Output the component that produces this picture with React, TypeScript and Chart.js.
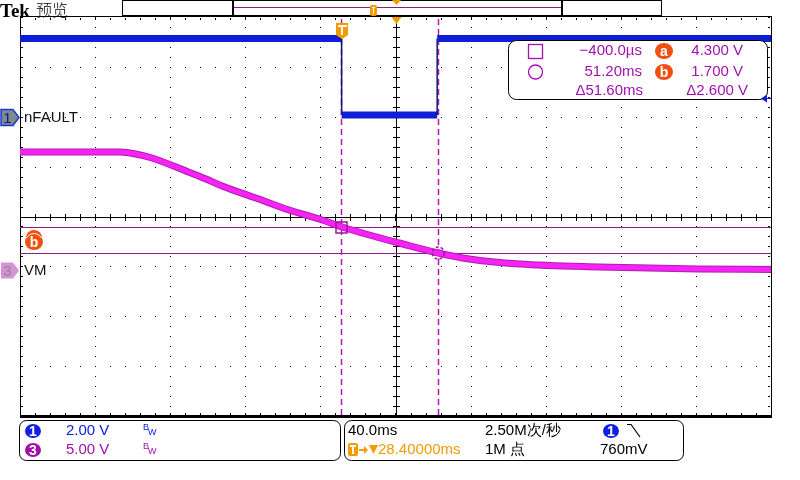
import React, { useEffect, useRef } from "react";
import { Chart, registerables } from "chart.js";
Chart.register(...registerables);

// ---- data (time in ms relative to trigger, volts) ----
const ch1Times = [-171.6, -0.3, -0.3, 50.6, 50.6, 228.4];
const ch1Volts = [3.14, 3.14, 0.08, 0.08, 3.14, 3.14];

const ch3Times = [-171.6, -118, -110, -101.3, -83.2, -72.5, -64, -46, -28.3, -10.7, 0, 14.4, 30.4, 51.2, 67.7, 94.4, 137, 190, 228.4];
const ch3Volts = [11.8, 11.8, 11.6, 11.2, 9.9, 9.1, 8.4, 7.2, 6.0, 5.0, 4.3, 3.5, 2.7, 1.7, 1.1, 0.6, 0.3, 0.1, 0.05];

const cursorTimes = [-0.4, 51.2];
const cursorVolts = [4.3, 1.7];
const triggerLevel = 0.76;
const horizPosition = 28.4;

const xRange = [-171.6, 228.4];
const ch1Range = [-11.96, 4.0];
const ch3Range = [-14.6, 25.3];

const readoutTimes = ["\u2212400.0\u00b5s", "51.20ms", "\u039451.60ms"];
const readoutVolts = ["4.300 V", "1.700 V", "\u03942.600 V"];
const channelLabels = ["nFAULT", "VM"];
const channelScales = ["2.00 V", "5.00 V"];

const UI = '"Liberation Sans", Arial, sans-serif';
const BLUE = "#0c1ed6";
const MAG = "#f524f5";
const PURP = "#a012b0";
const ORANGE = "#f59a00";
const RED_OR = "#f0500f";

function line(ctx: CanvasRenderingContext2D, x1: number, y1: number, x2: number, y2: number) {
  ctx.beginPath();
  ctx.moveTo(x1, y1);
  ctx.lineTo(x2, y2);
  ctx.stroke();
}

function roundRect(ctx: CanvasRenderingContext2D, x: number, y: number, w: number, h: number, r: number) {
  ctx.beginPath();
  ctx.moveTo(x + r, y);
  ctx.lineTo(x + w - r, y);
  ctx.arcTo(x + w, y, x + w, y + r, r);
  ctx.lineTo(x + w, y + h - r);
  ctx.arcTo(x + w, y + h, x + w - r, y + h, r);
  ctx.lineTo(x + r, y + h);
  ctx.arcTo(x, y + h, x, y + h - r, r);
  ctx.lineTo(x, y + r);
  ctx.arcTo(x, y, x + r, y, r);
  ctx.closePath();
}

function badge(ctx: CanvasRenderingContext2D, cx: number, cy: number, r: number, fill: string, txt: string, font: string, txtColor = "#fff") {
  ctx.save();
  ctx.fillStyle = fill;
  ctx.beginPath();
  ctx.ellipse(cx, cy, r + 1, r, 0, 0, Math.PI * 2);
  ctx.fill();
  ctx.fillStyle = txtColor;
  ctx.font = font;
  ctx.textAlign = "center";
  ctx.textBaseline = "middle";
  ctx.fillText(txt, cx, cy + 1);
  ctx.restore();
}

const scopePlugin = {
  id: "scope",
  beforeDatasetsDraw(chart: any) {
    const ctx: CanvasRenderingContext2D = chart.ctx;
    const { left, right, top, bottom } = chart.chartArea;
    const dw = (right - left) / 10;
    const dh = (bottom - top) / 8;
    ctx.save();
    ctx.fillStyle = "#000";
    // dotted major lines
    for (let j = 1; j < 8; j++) {
      if (j === 4) continue;
      const y = Math.round(top + j * dh);
      for (let k = 0; k <= 50; k++) ctx.fillRect(Math.round(left + (k * dw) / 5), y, 1, 1);
    }
    for (let i = 1; i < 10; i++) {
      if (i === 5) continue;
      const x = Math.round(left + i * dw);
      for (let k = 0; k <= 40; k++) ctx.fillRect(x, Math.round(top + (k * dh) / 5), 1, 1);
    }
    // edge ticks
    for (let k = 0; k <= 50; k++) {
      const x = Math.round(left + (k * dw) / 5);
      ctx.fillRect(x, top + 1, 1, 2);
      ctx.fillRect(x, bottom - 3, 1, 2);
    }
    for (let k = 0; k <= 40; k++) {
      const y = Math.round(top + (k * dh) / 5);
      ctx.fillRect(left + 1, y, 2, 1);
      ctx.fillRect(right - 3, y, 2, 1);
    }
    // center cross
    const cx = Math.round(left + 5 * dw);
    const cy = Math.round(top + 4 * dh);
    ctx.fillRect(left, cy, right - left, 1);
    ctx.fillRect(cx, top, 1, bottom - top);
    for (let k = 0; k <= 50; k++) ctx.fillRect(Math.round(left + (k * dw) / 5), cy - 3, 1, 7);
    for (let k = 0; k <= 40; k++) ctx.fillRect(cx - 3, Math.round(top + (k * dh) / 5), 7, 1);
    // border
    ctx.strokeStyle = "#000";
    ctx.lineWidth = 1;
    ctx.strokeRect(left + 0.5, top - 0.5, right - left, bottom - top);
    ctx.fillRect(left, bottom - 1, right - left + 1, 3);

    // cursors
    const xs = chart.scales.x;
    const y3 = chart.scales.y3;
    ctx.strokeStyle = "#8b1a8b";
    ctx.lineWidth = 1;
    cursorVolts.forEach((v) => {
      const y = Math.round(y3.getPixelForValue(v)) + 0.5;
      line(ctx, left, y, right, y);
    });
    ctx.setLineDash([6, 4]);
    ctx.strokeStyle = "#b414b4";
    ctx.lineWidth = 1.5;
    cursorTimes.forEach((t) => {
      const x = Math.round(xs.getPixelForValue(t)) + 0.5;
      line(ctx, x, top + 2, x, bottom);
    });
    ctx.restore();
  },
  afterDatasetsDraw(chart: any) {
    const ctx: CanvasRenderingContext2D = chart.ctx;
    const xs = chart.scales.x;
    const y3 = chart.scales.y3;
    const y1 = chart.scales.y1;
    const { left, right, top } = chart.chartArea;
    ctx.save();
    // cursor markers
    ctx.strokeStyle = "#a010a0";
    ctx.lineWidth = 1.5;
    const sx = Math.round(xs.getPixelForValue(cursorTimes[0]));
    const sy = Math.round(y3.getPixelForValue(cursorVolts[0]));
    ctx.strokeRect(sx - 5, sy - 5, 11, 11);
    const ox = xs.getPixelForValue(cursorTimes[1]);
    const oy = y3.getPixelForValue(cursorVolts[1]);
    ctx.setLineDash([3, 2]);
    ctx.beginPath();
    ctx.arc(ox, oy, 6, 0, Math.PI * 2);
    ctx.stroke();
    ctx.setLineDash([]);

    // trigger T marker
    const tx = Math.round(xs.getPixelForValue(0));
    ctx.fillStyle = ORANGE;
    ctx.beginPath();
    ctx.moveTo(tx - 6, top + 6);
    ctx.lineTo(tx + 6, top + 6);
    ctx.lineTo(tx + 6, top + 18);
    ctx.lineTo(tx, top + 22);
    ctx.lineTo(tx - 6, top + 18);
    ctx.closePath();
    ctx.fill();
    ctx.fillStyle = "#fff";
    ctx.fillRect(tx - 4, top + 8, 9, 2);
    ctx.fillRect(tx - 1, top + 8, 2, 10);

    // horizontal position triangle
    const hx = Math.round(xs.getPixelForValue(horizPosition)) + 0.5;
    ctx.fillStyle = ORANGE;
    ctx.beginPath();
    ctx.moveTo(hx - 5, top);
    ctx.lineTo(hx + 5, top);
    ctx.lineTo(hx, top + 7);
    ctx.closePath();
    ctx.fill();

    // readout box
    roundRect(ctx, 508.5, 40.5, 259, 59, 8);
    ctx.fillStyle = "#fff";
    ctx.fill();
    ctx.strokeStyle = "#000";
    ctx.lineWidth = 1;
    ctx.stroke();
    ctx.strokeStyle = PURP;
    ctx.lineWidth = 1.3;
    ctx.strokeRect(528.5, 44.5, 14, 14);
    ctx.beginPath();
    ctx.arc(535.5, 72, 7, 0, Math.PI * 2);
    ctx.stroke();
    ctx.font = "15px " + UI;
    ctx.fillStyle = PURP;
    ctx.textBaseline = "middle";
    ctx.textAlign = "right";
    const rowY = [51, 72, 91];
    ctx.fillText(readoutTimes[0], 642, rowY[0]);
    ctx.fillText(readoutTimes[1], 642, rowY[1]);
    ctx.fillText(readoutTimes[2], 643, rowY[2]);
    ctx.fillText(readoutVolts[0], 743, rowY[0]);
    ctx.fillText(readoutVolts[1], 743, rowY[1]);
    ctx.fillText(readoutVolts[2], 748, rowY[2]);
    badge(ctx, 664, rowY[0], 8, RED_OR, "a", "bold 14px " + UI);
    badge(ctx, 664, rowY[1], 8, RED_OR, "b", "bold 14px " + UI);

    // trigger level arrow (right)
    const ty = Math.round(y1.getPixelForValue(triggerLevel)) + 0.5;
    ctx.fillStyle = BLUE;
    ctx.beginPath();
    ctx.moveTo(right - 10, ty);
    ctx.lineTo(right - 4, ty - 4);
    ctx.lineTo(right - 4, ty + 4);
    ctx.closePath();
    ctx.fill();
    ctx.fillRect(right - 4, ty - 0.5, 4, 1);

    // channel ground markers (left)
    const g1 = Math.round(y1.getPixelForValue(0)) + 0.5;
    const g3 = Math.round(y3.getPixelForValue(0)) + 0.5;
    const marker = (gy: number, fill: string, stroke: string | null, num: string, numColor: string) => {
      ctx.beginPath();
      ctx.moveTo(1, gy - 8);
      ctx.lineTo(13, gy - 8);
      ctx.lineTo(19, gy);
      ctx.lineTo(13, gy + 8);
      ctx.lineTo(1, gy + 8);
      ctx.closePath();
      ctx.fillStyle = fill;
      ctx.fill();
      if (stroke) {
        ctx.strokeStyle = stroke;
        ctx.lineWidth = 1.5;
        ctx.stroke();
      }
      ctx.fillStyle = numColor;
      ctx.font = "15px " + UI;
      ctx.textAlign = "center";
      ctx.textBaseline = "middle";
      ctx.fillText(num, 7.5, gy + 1);
    };
    marker(g1, "#7f8a8c", "#1a3ad8", "1", "#0a1a9a");
    marker(g3, "#d890d8", null, "3", "#8a8a8a");
    ctx.fillStyle = "#111";
    ctx.font = "15px " + UI;
    ctx.textAlign = "left";
    ctx.textBaseline = "middle";
    ctx.fillText(channelLabels[0], left + 4, g1);
    ctx.fillText(channelLabels[1], left + 4, g3);

    // b marker on left
    const by = (y3.getPixelForValue(cursorVolts[0]) + y3.getPixelForValue(cursorVolts[1])) / 2 + 1;
    ctx.fillStyle = RED_OR;
    ctx.beginPath();
    ctx.arc(34, by - 3, 8, Math.PI, Math.PI * 2);
    ctx.fill();
    badge(ctx, 34, by + 1, 8, RED_OR, "b", "bold 14px " + UI);
    ctx.strokeStyle = "#fff";
    ctx.lineWidth = 1;
    ctx.beginPath();
    ctx.arc(34, by + 1, 8.5, Math.PI * 1.15, Math.PI * 1.85);
    ctx.stroke();

    ctx.restore();
  },
  afterDraw(chart: any) {
    const ctx: CanvasRenderingContext2D = chart.ctx;
    ctx.save();
    // title
    ctx.fillStyle = "#000";
    ctx.textAlign = "left";
    ctx.textBaseline = "alphabetic";
    ctx.font = 'bold 19px "Liberation Serif", serif';
    ctx.fillText("Tek", 0, 17);
    ctx.font = '300 16px "Noto Sans CJK SC", sans-serif';
    ctx.fillText("预览", 36, 16);

    // record view bar
    ctx.strokeStyle = "#000";
    ctx.lineWidth = 1;
    ctx.fillStyle = "#fff";
    ctx.fillRect(122, 0, 539, 15);
    ctx.strokeRect(122.5, 0.5, 539, 15);
    ctx.strokeRect(232.5, 0.5, 330, 15);
    ctx.fillStyle = "#000";
    ctx.fillRect(232, 0, 2, 16);
    ctx.fillRect(561, 0, 2, 16);
    ctx.fillStyle = "#8b1a8b";
    ctx.fillRect(234, 7, 327, 1);
    ctx.fillStyle = ORANGE;
    roundRect(ctx, 370, 5, 7, 11, 2);
    ctx.fill();
    ctx.fillStyle = "#fff";
    ctx.fillRect(372, 7, 3, 1);
    ctx.fillRect(373, 7, 1, 7);
    ctx.fillStyle = ORANGE;
    ctx.beginPath();
    ctx.moveTo(392, 0);
    ctx.lineTo(401, 0);
    ctx.lineTo(396.5, 5);
    ctx.closePath();
    ctx.fill();

    // bottom status boxes
    ctx.strokeStyle = "#000";
    ctx.lineWidth = 1;
    roundRect(ctx, 19.5, 420.5, 321, 40, 7);
    ctx.stroke();
    roundRect(ctx, 344.5, 420.5, 339, 40, 7);
    ctx.stroke();

    const r1 = 431, r2 = 450;
    badge(ctx, 33, r1, 7, "#1020e0", "1", "bold 14px " + UI);
    badge(ctx, 33, r2, 7, "#a010a8", "3", "bold 14px " + UI);
    badge(ctx, 611, r1, 7, "#1020e0", "1", "bold 14px " + UI);
    ctx.textAlign = "left";
    ctx.textBaseline = "middle";
    ctx.font = "15px " + UI;
    ctx.fillStyle = "#1020e0";
    ctx.fillText(channelScales[0], 66, r1);
    ctx.fillStyle = "#a010a8";
    ctx.fillText(channelScales[1], 66, r2);
    const bw = (y: number, c: string) => {
      ctx.fillStyle = c;
      ctx.font = "9px " + UI;
      ctx.fillText("B", 143, y - 3);
      ctx.fillText("W", 148, y + 2);
    };
    bw(r1, "#1020e0");
    bw(r2, "#a010a8");

    ctx.font = "15px " + UI;
    ctx.fillStyle = "#000";
    ctx.fillText("40.0ms", 348, r1);
    ctx.fillText("2.50M\u6b21/\u79d2", 485, r1);
    ctx.fillText("1M \u70b9", 485, r2);
    ctx.fillText("760mV", 600, r2);
    ctx.strokeStyle = "#000";
    ctx.lineWidth = 1.2;
    ctx.beginPath();
    ctx.moveTo(627, 424.5);
    ctx.lineTo(631, 424.5);
    ctx.lineTo(640, 437);
    ctx.stroke();

    // trigger position readout
    ctx.fillStyle = ORANGE;
    roundRect(ctx, 348, 443, 10, 13, 2);
    ctx.fill();
    ctx.fillStyle = "#fff";
    ctx.fillRect(350, 445, 6, 2);
    ctx.fillRect(352, 445, 2, 9);
    ctx.fillStyle = ORANGE;
    // arrow
    ctx.fillRect(359, 449, 6, 2);
    ctx.beginPath();
    ctx.moveTo(364, 446);
    ctx.lineTo(368, 450);
    ctx.lineTo(364, 454);
    ctx.closePath();
    ctx.fill();
    // down triangle
    ctx.beginPath();
    ctx.moveTo(369, 445);
    ctx.lineTo(378, 445);
    ctx.lineTo(373.5, 454);
    ctx.closePath();
    ctx.fill();
    ctx.font = "15px " + UI;
    ctx.textAlign = "left";
    ctx.textBaseline = "middle";
    ctx.fillText("28.40000ms", 378, r2);
    ctx.restore();
  },
};

export default function App() {
  const ref = useRef<HTMLCanvasElement | null>(null);
  useEffect(() => {
    if (!ref.current) return;
    const ch1 = ch1Times.map((t, i) => ({ x: t, y: ch1Volts[i] }));
    const ch3 = ch3Times.map((t, i) => ({ x: t, y: ch3Volts[i] }));
    const chart = new Chart(ref.current, {
      type: "line",
      data: {
        datasets: [
          {
            label: "nFAULT",
            data: ch1,
            yAxisID: "y1",
            borderColor: BLUE,
            borderWidth: 7,
            pointRadius: 0,
            tension: 0,
            order: 0,
            segment: {
              borderWidth: (c: any) => (c.p0.parsed.x === c.p1.parsed.x ? 1.5 : 7),
              borderColor: (c: any) => (c.p0.parsed.x === c.p1.parsed.x ? "#0a1470" : BLUE),
            },
          } as any,
          {
            label: "VM",
            data: ch3,
            yAxisID: "y3",
            borderColor: MAG,
            borderWidth: 5,
            pointRadius: 0,
            order: 1,
            cubicInterpolationMode: "monotone",
          },
          {
            label: "VM shade",
            data: ch3,
            yAxisID: "y3",
            borderColor: "#b01cb0",
            borderWidth: 7,
            pointRadius: 0,
            order: 2,
            cubicInterpolationMode: "monotone",
          },
        ],
      },
      options: {
        animation: false,
        responsive: false,
        events: [],
        layout: { padding: { left: 20, right: 29, top: 17, bottom: 64 } },
        plugins: { legend: { display: false }, tooltip: { enabled: false } },
        scales: {
          x: { type: "linear", min: xRange[0], max: xRange[1], display: false },
          y1: { type: "linear", min: ch1Range[0], max: ch1Range[1], display: false },
          y3: { type: "linear", min: ch3Range[0], max: ch3Range[1], display: false },
        },
      },
      plugins: [scopePlugin as any],
    });
    return () => chart.destroy();
  }, []);
  return (
    <div style={{ position: "absolute", left: 0, top: 0, width: 800, height: 480, background: "#fff" }}>
      <canvas ref={ref} width={800} height={480} style={{ width: 800, height: 480, display: "block" }} />
    </div>
  );
}
